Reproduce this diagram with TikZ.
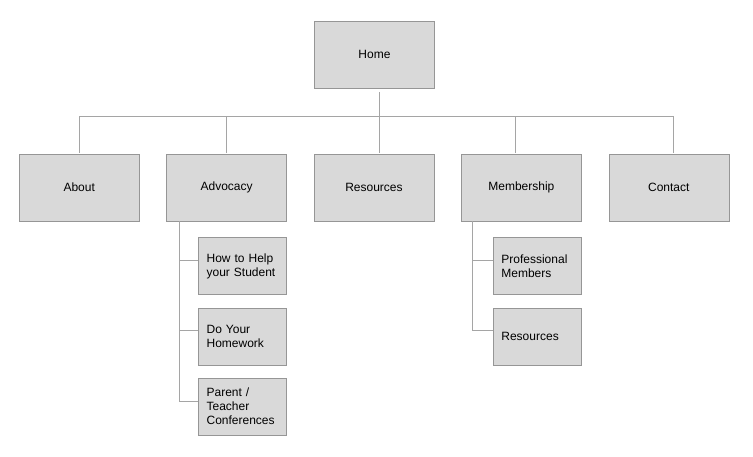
\documentclass[tikz,border=0pt]{standalone}
\usepackage{fontspec}
\setmainfont{Liberation Sans}
\usepackage{tikz}
\usetikzlibrary{matrix,positioning}

\definecolor{pagefill}{RGB}{217,217,217}
\definecolor{pageline}{RGB}{150,150,150}
\definecolor{linkline}{RGB}{165,165,165}

\tikzset{
  page/.style={draw=pageline, fill=pagefill, minimum width=120pt, minimum height=67pt, font=\fontsize{12}{14}\selectfont},
  subpage/.style={draw=pageline, fill=pagefill, text width=72pt, inner xsep=8pt, minimum height=57pt, align=left, font=\fontsize{12}{14}\selectfont},
  link/.style={draw=linkline, line width=0.9pt}
}

\begin{document}
\begin{tikzpicture}[x=1pt,y=-1pt]
    \useasboundingbox (0,0) rectangle (753,456);

    \node [page] (home) at (374.5,54.5) {Home};

    \matrix [column sep=27pt, every node/.style={page}] at (374,187.5)
    {
     \node (about) {About}; & \node (advocacy) {Advocacy}; & \node (resources) {Resources}; & \node (membership) {Membership}; & \node (contact) {Contact};\\
    };

    \foreach \n/\dx in {about/0,advocacy/0,resources/5,membership/-6,contact/4.5}
      \draw [link] ([xshift=5pt,yshift=-4pt]home.south) -- ++(0,24) -| ([xshift=\dx pt,yshift=1pt]\n.north);

    % advocacy subpages
    \node [subpage, below right=16pt and 32pt of advocacy.south west] (help) {How to Help\\your Student};
    \node [subpage, below=13pt of help] (homework) {Do Your\\Homework};
    \node [subpage, below=13pt of homework] (conferences) {Parent /\\Teacher\\Conferences};

    \coordinate (advtrunk) at ([xshift=13pt]advocacy.south west);
    \draw [link] (advtrunk) |- ([yshift=5.5pt]help.west);
    \draw [link] (advtrunk) |- ([yshift=5.5pt]homework.west);
    \draw [link] (advtrunk) |- ([yshift=5.5pt]conferences.west);

    % membership subpages
    \node [subpage, below right=16pt and 32pt of membership.south west] (professional) {Professional\\Members};
    \node [subpage, below=13pt of professional] (memresources) {Resources};

    \coordinate (memtrunk) at ([xshift=11pt]membership.south west);
    \draw [link] (memtrunk) |- ([yshift=5.5pt]professional.west);
    \draw [link] (memtrunk) |- ([yshift=5.5pt]memresources.west);
\end{tikzpicture}
\end{document}
